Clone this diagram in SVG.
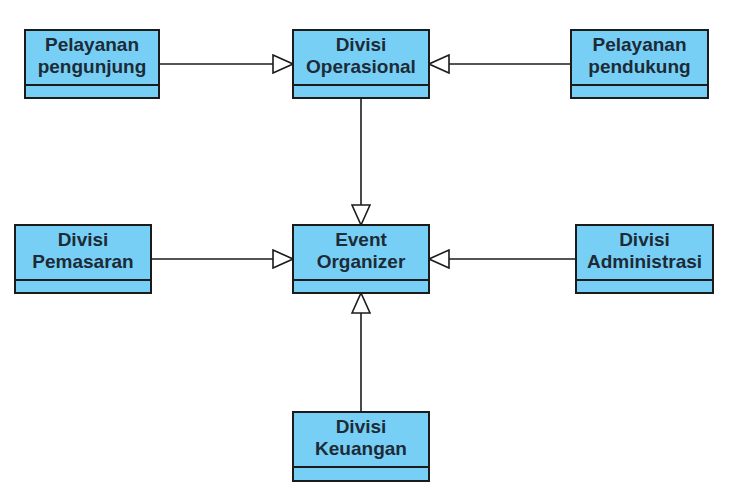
<svg xmlns="http://www.w3.org/2000/svg" width="750" height="500" viewBox="0 0 750 500">
<style>
.box{fill:#78CFF6;stroke:#1b1b1b;stroke-width:2}
.div{stroke:#1b1b1b;stroke-width:2}
.t{font-family:"Liberation Sans",Arial,sans-serif;font-weight:bold;font-size:19px;fill:#1c2b36;text-anchor:middle}
.c{stroke:#1b1b1b;stroke-width:1.6;fill:none}
</style>
<defs>
<marker id="tri" viewBox="0 0 22 20" refX="21" refY="10" markerWidth="22" markerHeight="20" markerUnits="userSpaceOnUse" orient="auto">
<path d="M1,1 L21,10 L1,19 Z" fill="#ffffff" stroke="#1b1b1b" stroke-width="1.6"/>
</marker>
</defs>
<rect width="750" height="500" fill="#ffffff"/>
<g id="connectors">
<line class="c" x1="159" y1="64" x2="293" y2="64" marker-end="url(#tri)"/>
<line class="c" x1="571" y1="64" x2="429" y2="64" marker-end="url(#tri)"/>
<line class="c" x1="361" y1="98" x2="361" y2="225" marker-end="url(#tri)"/>
<line class="c" x1="151" y1="259" x2="293" y2="259" marker-end="url(#tri)"/>
<line class="c" x1="576" y1="259" x2="429" y2="259" marker-end="url(#tri)"/>
<line class="c" x1="361" y1="412" x2="361" y2="293" marker-end="url(#tri)"/>
</g>
<g id="pelayanan-pengunjung">
<rect class="box" x="25" y="30" width="134" height="68"/>
<line class="div" x1="25" y1="85" x2="159" y2="85"/>
<text class="t" x="92" y="51">Pelayanan</text>
<text class="t" x="92" y="73">pengunjung</text>
</g>
<g id="divisi-operasional">
<rect class="box" x="293" y="30" width="136" height="68"/>
<line class="div" x1="293" y1="85" x2="429" y2="85"/>
<text class="t" x="361" y="51">Divisi</text>
<text class="t" x="361" y="73">Operasional</text>
</g>
<g id="pelayanan-pendukung">
<rect class="box" x="571" y="30" width="137" height="68"/>
<line class="div" x1="571" y1="85" x2="708" y2="85"/>
<text class="t" x="639.5" y="51">Pelayanan</text>
<text class="t" x="639.5" y="73">pendukung</text>
</g>
<g id="divisi-pemasaran">
<rect class="box" x="15" y="225" width="136" height="68"/>
<line class="div" x1="15" y1="280" x2="151" y2="280"/>
<text class="t" x="83" y="246">Divisi</text>
<text class="t" x="83" y="268">Pemasaran</text>
</g>
<g id="event-organizer">
<rect class="box" x="293" y="225" width="136" height="68"/>
<line class="div" x1="293" y1="280" x2="429" y2="280"/>
<text class="t" x="361" y="246">Event</text>
<text class="t" x="361" y="268">Organizer</text>
</g>
<g id="divisi-administrasi">
<rect class="box" x="576" y="225" width="137" height="68"/>
<line class="div" x1="576" y1="280" x2="713" y2="280"/>
<text class="t" x="644.5" y="246">Divisi</text>
<text class="t" x="644.5" y="268">Administrasi</text>
</g>
<g id="divisi-keuangan">
<rect class="box" x="293" y="412" width="136" height="69"/>
<line class="div" x1="293" y1="467" x2="429" y2="467"/>
<text class="t" x="361" y="433">Divisi</text>
<text class="t" x="361" y="455">Keuangan</text>
</g>
</svg>
